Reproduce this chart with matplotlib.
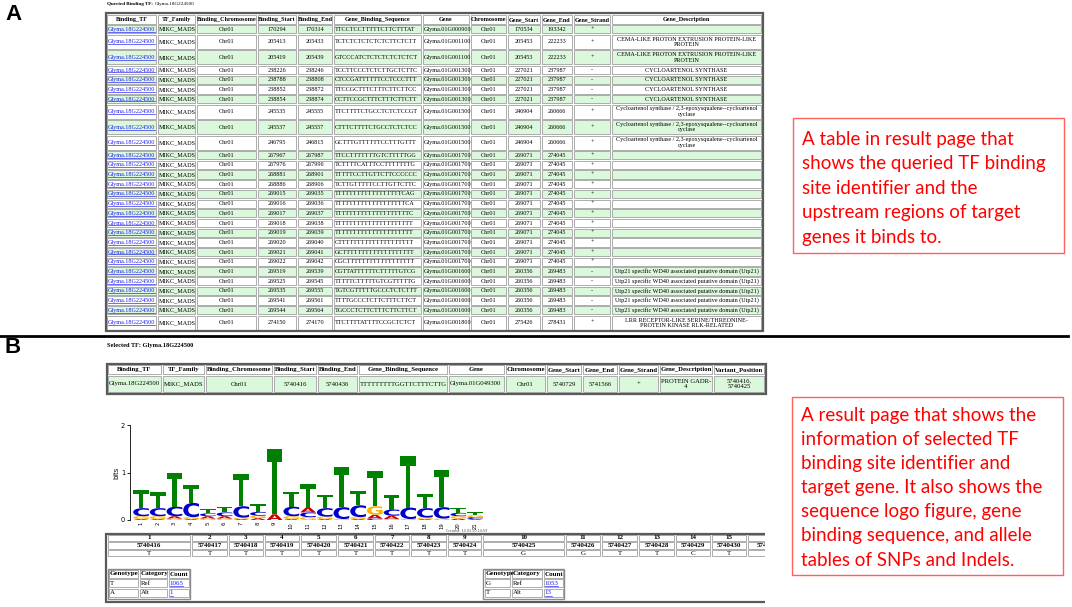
import matplotlib
matplotlib.use('agg')
import matplotlib.pyplot as plt
from matplotlib.patches import Rectangle, PathPatch
from matplotlib.textpath import TextPath
from matplotlib.font_manager import FontProperties
from matplotlib.transforms import Affine2D

# ---------------- panel A: queried TF table ----------------
queried_tf = 'Glyma.18G224500'
tf_family = 'MIKC_MADS'
chrom = 'Chr01'
binding_start = [170294, 205413, 205419, 238226, 238788, 238852, 238854, 245535, 245537, 246795,
                 267967, 267976, 268881, 268886, 269015, 269016, 269017, 269018, 269019, 269020,
                 269021, 269022, 269519, 269525, 269535, 269541, 269544, 274150]
binding_end = [170314, 205433, 205439, 238246, 238808, 238872, 238874, 245555, 245557, 246815,
               267987, 267996, 268901, 268906, 269035, 269036, 269037, 269038, 269039, 269040,
               269041, 269042, 269539, 269545, 269555, 269561, 269564, 274170]
binding_seq = ['TTCCTCCTTTTTCTTCTTTAT', 'TCTCTCTCTCTCTCTTCTCTT', 'GTCCCATCTCTCTCTCTCTCT',
               'TCCTTCCCTCTCTTGCTCTTC', 'CTCCGATTTTTTCCTCCCTTT', 'TTCCGCTTTCTTTCTTCTTCC',
               'CCTTCCGCTTTCTTTCTTCTT', 'TTCTTTTCTGCCTCTCTCCGT', 'CTTTCTTTTCTGCCTCTCTCC',
               'GCTTTGTTTTTTCCTTTGTTT', 'TTCCTTTTTTTGTCTTTTTGG', 'TCTTTTCATTTCCTTTTTTTG',
               'TTTTTCCTTGTTCTTCCCCCC', 'TCTTGTTTTTCCTTGTTCTTC', 'TTTTTTTTTTTTTTTTTTCAG',
               'TTTTTTTTTTTTTTTTTTTCA', 'TTTTTTTTTTTTTTTTTTTTC', 'TTTTTTTTTTTTTTTTTTTTT',
               'TTTTTTTTTTTTTTTTTTTTT', 'CTTTTTTTTTTTTTTTTTTTT', 'GCTTTTTTTTTTTTTTTTTTT',
               'CGCTTTTTTTTTTTTTTTTTT', 'CGTTATTTTTTCTTTTTGTCG', 'TTTTTCTTTTTGTCGTTTTTG',
               'TGTCGTTTTTGCCCTCTCTTT', 'TTTTGCCCTCTTCTTTCTTCT', 'TGCCCTCTTCTTTCTTCTTCT',
               'TTCTTTTATTTTCCGCTCTCT']
row_gene = (['Glyma.01G000900'] + ['Glyma.01G001100'] * 2 + ['Glyma.01G001300'] * 4
            + ['Glyma.01G001500'] * 3 + ['Glyma.01G001700'] * 12 + ['Glyma.01G001600'] * 5
            + ['Glyma.01G001800'])
gene_start = {'Glyma.01G000900': 170534, 'Glyma.01G001100': 205453, 'Glyma.01G001300': 227021,
              'Glyma.01G001500': 246904, 'Glyma.01G001700': 269071, 'Glyma.01G001600': 260356,
              'Glyma.01G001800': 275426}
gene_end = {'Glyma.01G000900': 193342, 'Glyma.01G001100': 222233, 'Glyma.01G001300': 237987,
            'Glyma.01G001500': 260666, 'Glyma.01G001700': 274045, 'Glyma.01G001600': 269483,
            'Glyma.01G001800': 278431}
gene_strand = {'Glyma.01G000900': '+', 'Glyma.01G001100': '+', 'Glyma.01G001300': '-',
               'Glyma.01G001500': '+', 'Glyma.01G001700': '+', 'Glyma.01G001600': '-',
               'Glyma.01G001800': '+'}
gene_desc = {'Glyma.01G000900': '',
             'Glyma.01G001100': 'CEMA-LIKE PROTON EXTRUSION PROTEIN-LIKE\nPROTEIN',
             'Glyma.01G001300': 'CYCLOARTENOL SYNTHASE',
             'Glyma.01G001500': 'Cycloartenol synthase / 2,3-epoxysqualene--cycloartenol\ncyclase',
             'Glyma.01G001700': '',
             'Glyma.01G001600': 'Utp21 specific WD40 associated putative domain (Utp21)',
             'Glyma.01G001800': 'LRR RECEPTOR-LIKE SERINE/THREONINE-\nPROTEIN KINASE RLK-RELATED'}
top_headers = ['Binding_TF', 'TF_Family', 'Binding_Chromosome', 'Binding_Start', 'Binding_End',
               'Gene_Binding_Sequence', 'Gene', 'Chromosome', 'Gene_Start', 'Gene_End',
               'Gene_Strand', 'Gene_Description']

# ---------------- panel B: selected TF ----------------
sel_headers = top_headers + ['Variant_Position']
sel_row = ['Glyma.18G224500', 'MIKC_MADS', 'Chr01', '5740416', '5740436', 'TTTTTTTTTGGTTCTTTCTTG',
           'Glyma.01G049300', 'Chr01', '5740729', '5741566', '+', 'PROTEIN GADR-\n4', '5740416,\n5740425']

# sequence logo (bits per letter at each position)
logo_pos = list(range(1, 22))
logo_T = [.38, .33, .72, .37, .10, .12, .68, .16, 1.38, .32, .50, .28, .85, .30, .75, .30, 1.08, .30, .78, .10, .07]
logo_C = [.17, .17, .20, .30, .06, .08, .24, .08, 0, .20, .10, .18, .25, .25, .03, .13, .24, .20, .24, .07, .04]
logo_A = [.02, .02, .05, .02, .05, .05, .02, .04, .12, .02, .10, .02, 0, .02, .08, .07, 0, .02, 0, .03, .02]
logo_G = [.06, .06, .03, .04, .03, .03, .03, .05, 0, .06, .06, .05, .02, .04, .18, .02, .02, .03, .03, .05, .04]

# allele table
allele_idx = list(range(1, 17))
allele_pos = ['5740416', '5740417', '5740418', '5740419', '5740420', '5740421', '5740422', '5740423',
              '5740424', '5740425', '5740426', '5740427', '5740428', '5740429', '5740430', '5740431']
allele_base = ['T', 'T', 'T', 'T', 'T', 'T', 'T', 'T', 'T', 'G', 'G', 'T', 'T', 'C', 'T', 'T']
snp1 = [['T', 'Ref', '1065'], ['A', 'Alt', '1']]
snp10 = [['G', 'Ref', '1053'], ['T', 'Alt', '13']]

note_a = ['A table in result page that', 'shows the queried TF binding', 'site identifier and the',
          'upstream regions of target', 'genes it binds to.']
note_b = ['A result page that shows the', 'information of selected TF', 'binding site identifier and',
          'target gene. It also shows the', 'sequence logo figure, gene', 'binding sequence, and allele',
          'tables of SNPs and Indels.']

W, H = 1072, 607
SERIF = 'Liberation Serif'
GREEN = '#dcf8dc'
LINK = '#1a1aee'

fig = plt.figure(figsize=(W / 100, H / 100), dpi=100)
ax = fig.add_axes([0, 0, 1, 1])
ax.set_xlim(0, W)
ax.set_ylim(H, 0)
ax.axis('off')
renderer = fig.canvas.get_renderer()


def cell(a, x0, x1, y0, y1, text='', bg='white', bold=False, color='black', ha='center',
         size=4.4, link=False):
    a.add_patch(Rectangle((x0 + 0.7, y0 + 0.7), x1 - x0 - 1.4, y1 - y0 - 1.4,
                          facecolor=bg, edgecolor='#a0a0a0', lw=0.6))
    if text == '':
        return
    tx = x0 + 1.6 if ha == 'left' else (x0 + x1) / 2
    yc = (y0 + y1) / 2
    t = a.text(tx, yc, text, ha=ha, va='center', fontsize=size, family=SERIF,
               weight='bold' if bold else 'normal', color=color, linespacing=1.1,
               multialignment='center', clip_on=True)
    if link:
        bb = t.get_window_extent(renderer).transformed(a.transData.inverted())
        yb = yc + size * 0.55
        a.plot([bb.x0, bb.x1], [yb, yb], color=color, lw=0.45)


# ---- panel A table
t0 = ax.text(107, 4.5, 'Queried Binding TF:', fontsize=3.7, family=SERIF, weight='bold', va='center')
x_end = t0.get_window_extent(renderer).transformed(ax.transData.inverted()).x1
ax.text(x_end + 1.5, 4.5, queried_tf, fontsize=3.7, family=SERIF, va='center')
top_cols = [106, 157, 196, 257, 297, 333, 422, 470, 507, 541, 573, 611, 762]
top_align = ['left', 'left', 'center', 'center', 'center', 'left', 'left', 'center', 'center',
             'center', 'center', 'center']
y = 14.5
for j, h in enumerate(top_headers):
    cell(ax, top_cols[j], top_cols[j + 1], y, y + 10, h, bold=True)
y += 10
for i in range(len(binding_start)):
    g = row_gene[i]
    desc = gene_desc[g]
    rh = 15.5 if '\n' in desc else 9.68
    bg = GREEN if i % 2 == 0 else 'white'
    vals = [queried_tf, tf_family, chrom, str(binding_start[i]), str(binding_end[i]), binding_seq[i],
            g, chrom, str(gene_start[g]), str(gene_end[g]), gene_strand[g], desc]
    for j, v in enumerate(vals):
        cell(ax, top_cols[j], top_cols[j + 1], y, y + rh, v, bg=bg, ha=top_align[j],
             color=LINK if j == 0 else 'black', link=(j == 0))
    y += rh
ax.add_patch(Rectangle((105.5, 13.2), 657.5, y - 12.5, fill=False, edgecolor='#5a5a5a', lw=1.6))

ax.plot([0, 1068], [335.5, 335.5], color='black', lw=2)
ax.text(13, 14, 'A', fontsize=16, weight='bold', family='Liberation Sans', ha='center', va='center')
ax.text(13, 347.5, 'B', fontsize=16, weight='bold', family='Liberation Sans', ha='center', va='center')

# ---- panel B selected TF table
ax.text(107, 346, 'Selected TF: Glyma.18G224500', fontsize=4.6, family=SERIF, weight='bold', va='center')
sel_cols = [107, 162, 205, 273, 317, 358, 448, 505, 546, 582, 618, 659, 713, 765]
sel_align = ['left', 'left', 'center', 'center', 'center', 'left', 'left', 'center', 'center',
             'center', 'center', 'center', 'center']
for j, h in enumerate(sel_headers):
    cell(ax, sel_cols[j], sel_cols[j + 1], 364.5, 375, h, bold=True, size=4.8)
    cell(ax, sel_cols[j], sel_cols[j + 1], 375, 393, sel_row[j], bg=GREEN, size=4.8, ha=sel_align[j])
ax.add_patch(Rectangle((106.5, 363.5), 659, 30.5, fill=False, edgecolor='#5a5a5a', lw=1.6))

# ---- sequence logo
lax = fig.add_axes([130 / W, 1 - 520 / H, (484 - 130) / W, 95 / H])
lax.set_xlim(0.34, 21.54)
lax.set_ylim(0, 2)
for s in ['top', 'right', 'bottom']:
    lax.spines[s].set_visible(False)
lax.spines['left'].set_linewidth(0.6)
lax.set_yticks([0, 1, 2])
lax.tick_params(axis='y', labelsize=4.8, length=2.5, width=0.6, pad=1)
lax.set_xticks(logo_pos)
lax.set_xticklabels([str(p) for p in logo_pos], rotation=90, fontsize=3.8)
lax.tick_params(axis='x', length=0, pad=1.5)
lax.set_ylabel('bits', fontsize=4.8, labelpad=1)
lax.patch.set_alpha(0)

fp = FontProperties(family='DejaVu Sans', weight='bold')
logo_colors = {'T': '#008000', 'C': '#0000cc', 'A': '#cc0000', 'G': '#ffb300'}


def letter(a, ch, x, y0, w, h, color):
    tp = TextPath((0, 0), ch, size=1, prop=fp)
    ext = tp.get_extents()
    tr = (Affine2D().translate(-ext.x0, -ext.y0)
          .scale(w / ext.width, h / ext.height).translate(x - w / 2, y0))
    a.add_patch(PathPatch(tr.transform_path(tp), facecolor=color, edgecolor='none'))


for k, p in enumerate(logo_pos):
    stack = sorted([('T', logo_T[k]), ('C', logo_C[k]), ('A', logo_A[k]), ('G', logo_G[k])],
                   key=lambda t: t[1])
    base = 0
    for ch, hgt in stack:
        if hgt <= 0:
            continue
        letter(lax, ch, p, base, 0.94, hgt, logo_colors[ch])
        base += hgt
ax.text(487, 531, 'Created: 10.03.20 14:59', fontsize=2.4, color='#555555', ha='right', va='center')

# ---- allele table (clipped at the right, like the screenshot)
tax = fig.add_axes([0, 0, 765 / W, 1])
tax.set_xlim(0, 765)
tax.set_ylim(H, 0)
tax.axis('off')
al_cols = [107, 191, 228, 264, 300, 337, 374, 410, 447, 482, 565, 601, 638, 675, 711, 747, 790]
for j in range(len(allele_idx)):
    x0, x1 = al_cols[j], al_cols[j + 1]
    cell(tax, x0, x1, 534, 541.7, str(allele_idx[j]), bold=True, size=5)
    cell(tax, x0, x1, 541.7, 549.3, allele_pos[j], bold=True, size=5)
    cell(tax, x0, x1, 549.3, 557, allele_base[j], size=5)


def geno_table(a, cols, rows):
    ys = [569.5, 578.5, 588, 598]
    for j, hname in enumerate(['Genotype', 'Category', 'Count']):
        cell(a, cols[j], cols[j + 1], ys[0], ys[1], hname, bold=True, size=5, ha='left')
    for r, vals in enumerate(rows):
        for j, v in enumerate(vals):
            cell(a, cols[j], cols[j + 1], ys[r + 1], ys[r + 2], v, size=5, ha='left',
                 color=LINK if j == 2 else 'black', link=(j == 2))
    a.add_patch(Rectangle((cols[0] - 0.5, ys[0] - 0.7), cols[-1] - cols[0] + 1, ys[-1] - ys[0] + 1.4,
                          fill=False, edgecolor='#8a8a8a', lw=1.0))


geno_table(tax, [108.5, 139, 168, 190], snp1)
geno_table(tax, [484, 511, 543, 564], snp10)
tax.add_patch(Rectangle((106.5, 533.5), 700, 68.5, fill=False, edgecolor='#5a5a5a', lw=1.6))

# ---- red notes
def fit_size(line, target):
    t = ax.text(0, 0, line, fontsize=10, family='Lato')
    w = t.get_window_extent(renderer).width
    t.remove()
    return 10 * target / w


note_size = fit_size('target gene. It also shows the', 241)
ax.add_patch(Rectangle((793, 118), 271, 135, facecolor='white', edgecolor='#ff6060', lw=1))
for k, line in enumerate(note_a):
    ax.text(802, 139 + k * 24.5, line, fontsize=note_size, family='Lato', color='#ff0000', va='center')
ax.add_patch(Rectangle((792, 397), 271, 178, facecolor='white', edgecolor='#ff6060', lw=1))
for k, line in enumerate(note_b):
    ax.text(801, 415 + k * 24.2, line, fontsize=note_size, family='Lato', color='#ff0000', va='center')

fig.savefig('out.png', dpi=100)
